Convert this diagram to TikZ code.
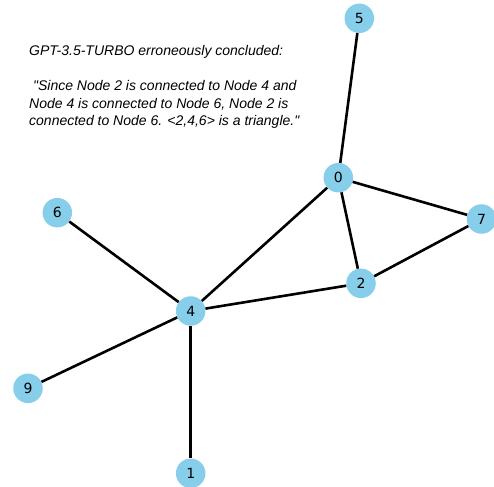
\documentclass[tikz,border=0pt]{standalone}
\usepackage{fontspec}
\setmainfont{Liberation Sans}[Ligatures=TeXOff]
\newfontfamily\nodefont{DejaVu Sans}
\definecolor{nodeblue}{HTML}{87CEEB}
\tikzset{
  vert/.style={circle, fill=nodeblue, minimum size=29.5pt, inner sep=0pt, font=\nodefont\fontsize{14}{14}\selectfont},
  edge/.style={line width=2.6pt, black},
  msg/.style={anchor=base west, inner sep=0pt, font=\itshape\fontsize{14}{17}\selectfont}
}
\begin{document}
\begin{tikzpicture}[x=1pt,y=-1pt]
\useasboundingbox (0,0) rectangle (494,486);
\node[vert] (n5) at (359.3,18.3) {5};
\node[vert] (n0) at (338.3,177.7) {0};
\node[vert] (n7) at (481.5,219) {7};
\node[vert] (n2) at (361,283.3) {2};
\node[vert] (n6) at (57.3,212.7) {6};
\node[vert] (n4) at (190.7,311) {4};
\node[vert] (n9) at (28,388.3) {9};
\node[vert] (n1) at (190.7,473.3) {1};
\draw[edge] (n0) -- (n5);
\draw[edge] (n0) -- (n7);
\draw[edge] (n0) -- (n2);
\draw[edge] (n0) -- (n4);
\draw[edge] (n2) -- (n7);
\draw[edge] (n2) -- (n4);
\draw[edge] (n4) -- (n6);
\draw[edge] (n4) -- (n9);
\draw[edge] (n4) -- (n1);
\node[msg] (t1) at (29,56) {GPT-3.5-TURBO erroneously concluded:};
\node[msg] (t2) at (29,90.5) {\ "Since Node 2 is connected to Node 4 and};
\node[msg] (t3) at (29,108.3) {Node 4 is connected to Node 6, Node 2 is};
\node[msg] (t4) at (29,126) {connected to Node 6. <2,4,6> is a triangle."};
\end{tikzpicture}
\end{document}
